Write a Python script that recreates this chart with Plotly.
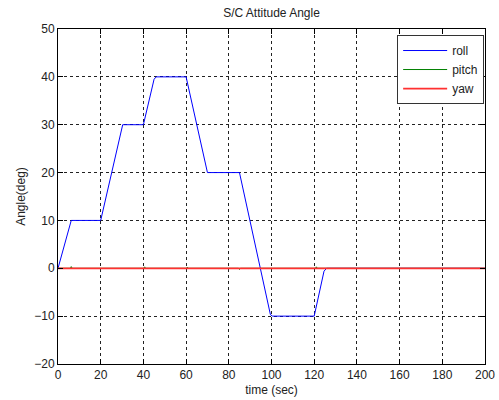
import plotly.graph_objects as go

# Data
roll_t = [0, 6.2, 20, 30.3, 40, 45, 46, 60, 70, 85, 99.5, 100.5, 120, 124.6, 125.8, 200]
roll_v = [0, 10, 10, 30, 30, 39.5, 40, 40, 20, 20, -9.7, -10, -10, -0.6, 0, 0]

pitch_t = [0, 5.8, 6.2, 6.6, 40.2, 40.6, 41.0, 60.2, 60.6, 61.0, 84.6, 85.0, 85.4, 120.6, 121.0, 121.4, 200]
pitch_v = [0, 0, 0.35, 0, 0, 0.3, 0, 0, 0.25, 0, 0, -0.25, 0, 0, 0.3, 0, 0]

yaw_t = [0, 200]
yaw_v = [0, 0]

x_ticks = [0, 20, 40, 60, 80, 100, 120, 140, 160, 180, 200]
y_ticks = [-20, -10, 0, 10, 20, 30, 40, 50]

FONT = "Liberation Sans, Arial, sans-serif"

fig = go.Figure()
fig.add_trace(go.Scatter(x=roll_t, y=roll_v, mode="lines", name="roll",
                         line=dict(color="#0000ff", width=1)))
fig.add_trace(go.Scatter(x=pitch_t, y=pitch_v, mode="lines", name="pitch",
                         line=dict(color="#008000", width=1)))
fig.add_trace(go.Scatter(x=yaw_t, y=yaw_v, mode="lines", name="yaw",
                         line=dict(color="#ff3030", width=1.8)))

axis_common = dict(
    showline=True, linecolor="black", linewidth=1, mirror="allticks",
    ticks="inside", ticklen=5, tickcolor="black", tickwidth=1,
    showgrid=True, gridcolor="#222222", gridwidth=1, griddash="3px,3px",
    zeroline=False, automargin=False,
    tickfont=dict(family=FONT, size=12, color="#222222"),
)

fig.update_layout(
    width=499, height=400,
    margin=dict(l=58, r=14, t=29, b=36),
    paper_bgcolor="white", plot_bgcolor="white",
    title=dict(text="S/C Attitude Angle", x=0.5, xanchor="center", xref="paper",
               y=1 - 13 / 400, yanchor="middle",
               font=dict(family=FONT, size=12, color="#222222")),
    xaxis=dict(range=[0, 200], tickvals=x_ticks,
               title=dict(text="time (sec)", standoff=4,
                          font=dict(family=FONT, size=12, color="#222222")),
               **axis_common),
    yaxis=dict(range=[-20, 50], tickvals=y_ticks,
               title=dict(text="Angle(deg)", standoff=6,
                          font=dict(family=FONT, size=12, color="#222222")),
               **axis_common),
    legend=dict(x=0.998, xanchor="right", y=0.982, yanchor="top",
                bgcolor="white", bordercolor="#333333", borderwidth=1,
                font=dict(family=FONT, size=12, color="#222222"),
                tracegroupgap=0, itemwidth=44),
    showlegend=True,
)

fig.write_html("out.html")
